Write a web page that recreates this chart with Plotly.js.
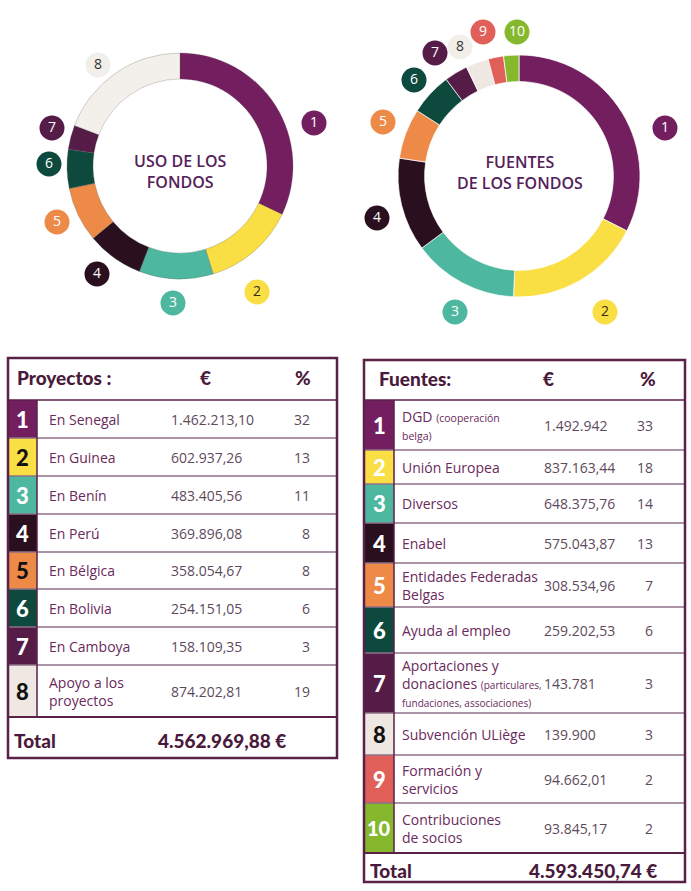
<!DOCTYPE html>
<html>
<head>
<meta charset="utf-8">
<script src="https://cdn.plot.ly/plotly-3.0.1.min.js"></script>
<style>html,body{margin:0;padding:0;background:#fff;}#chart{width:691px;height:891px;}</style>
</head>
<body>
<div id="chart"></div>
<script>
// ---------- DATA ----------
var usoIds = ['1','2','3','4','5','6','7','8'];
var usoLabels = ['En Senegal','En Guinea','En Benín','En Perú','En Bélgica','En Bolivia','En Camboya','Apoyo a los<br>proyectos'];
var usoValues = [1462213.10, 602937.26, 483405.56, 369896.08, 358054.67, 254151.05, 158109.35, 874202.81];
var usoPct = [32, 13, 11, 8, 8, 6, 3, 19];

var fuenteIds = ['1','2','3','4','5','6','7','8','9','10'];
var fuenteLabels = [
  'DGD <span style="font-size:10.5px">(cooperación</span><br><span style="font-size:10.5px">belga)</span>',
  'Unión Europea',
  'Diversos',
  'Enabel',
  'Entidades Federadas<br>Belgas',
  'Ayuda al empleo',
  'Aportaciones y<br>donaciones <span style="font-size:10px">(particulares,</span><br><span style="font-size:10px">fundaciones, associaciones)</span>',
  'Subvención ULiège',
  'Formación y<br>servicios',
  'Contribuciones<br>de socios'
];
var fuenteValues = [1492942, 837163.44, 648375.76, 575043.87, 308534.96, 259202.53, 143781, 139900, 94662.01, 93845.17];
var fuentePct = [33, 18, 14, 13, 7, 6, 3, 3, 2, 2];

var usoTitle = 'USO DE LOS<br>FONDOS';
var fuenteTitle = 'FUENTES<br>DE LOS FONDOS';
var usoHeader = ['Proyectos :', '€', '%'];
var fuenteHeader = ['Fuentes:', '€', '%'];
var totalLabel = 'Total';

// ---------- STYLE ----------
var C = {
  purple:'#731f5f', yellow:'#f9de44', teal:'#4db79f', dark:'#2a0f1f', orange:'#ee8a48',
  green:'#0d4a3d', plum:'#551c47', beige:'#efe8e2', salmon:'#e05f58', lime:'#85b82c'
};
var usoColors = [C.purple, C.yellow, C.teal, C.dark, C.orange, C.green, C.plum, C.beige];
var fuenteColors = [C.purple, C.yellow, C.teal, C.dark, C.orange, C.green, C.plum, C.beige, C.salmon, C.lime];
var usoNumColors = ['#fff','#111','#fff','#fff','#111','#fff','#fff','#111'];
var fuenteNumColors = ['#fff','#fff','#fff','#fff','#fff','#fff','#fff','#111','#fff','#fff'];
var usoCircleText = ['#fff','#3a2a10','#fff','#fff','#fff','#fff','#fff','#333'];
var fuenteCircleText = ['#fff','#3a2a10','#fff','#fff','#fff','#fff','#fff','#333','#fff','#fff'];
var BORDER = '#5a2048', LINE = '#8e7089', TXT = '#6a2a5c', NUMTXT = '#5e4a5c', TITLE = '#55215a';

// layout geometry (pixels)
var W = 691, H = 891;
var usoCircles = [[314,123],[257,292],[173,303],[97,274],[57,222],[49,164],[52,128],[98,65]];
var fuenteCircles = [[665,128],[605,312],[455,312],[377,218],[383,122],[414,80],[435,53],[460,47],[483,32],[517,32]];
var t1 = {x0:8, xn:37, x1:337, top:358, rows:[400,438,476,514,552,589,627,665,717], bottom:758,
          hx:15, eurX:205, pctHX:303, labelX:47, valX:169, pctX:312, totValX:222};
var t2 = {x0:364, xn:394, x1:685, top:360, rows:[400,450,484,523,563,607,653,713,755,803,853], bottom:882,
          hx:377, eurX:548, pctHX:648, labelX:400, valX:542, pctX:655, totValX:593};

function fmt(v){
  var isInt = Math.abs(v - Math.round(v)) < 1e-9;
  var s = isInt ? String(Math.round(v)) : v.toFixed(2);
  var parts = s.split('.');
  var ip = parts[0].replace(/\B(?=(\d{3})+(?!\d))/g, '.');
  return parts.length > 1 ? ip + ',' + parts[1] : ip;
}
function sum(a){ return a.reduce(function(s,v){return s+v;},0); }

function px2dom(x0,x1,y0,y1){ return {x:[x0/W, x1/W], y:[1 - y1/H, 1 - y0/H]}; }

var traces = [];
// donuts
traces.push({type:'pie', values:usoValues, labels:usoIds, sort:false, direction:'clockwise', rotation:0,
  hole:0.77, textinfo:'none', hoverinfo:'none', showlegend:false,
  marker:{colors:usoColors.map(function(c,i){return i===7 ? '#f3efeb' : c;}), line:{color:'rgba(90,90,90,0.45)', width:0.6}},
  domain:px2dom(180-113, 180+113, 166-113, 166+113)});
traces.push({type:'pie', values:fuenteValues, labels:fuenteIds, sort:false, direction:'clockwise', rotation:0,
  hole:0.78, textinfo:'none', hoverinfo:'none', showlegend:false,
  marker:{colors:fuenteColors, line:{color:'rgba(255,255,255,0.9)', width:0.8}},
  domain:px2dom(519-121, 519+121, 176-121, 176+121)});
// numbered circles
traces.push({type:'scatter', mode:'markers+text', hoverinfo:'none', showlegend:false,
  x:usoCircles.map(function(p){return p[0];}), y:usoCircles.map(function(p){return p[1];}),
  text:usoIds, textposition:'middle center',
  textfont:{family:'Open Sans, sans-serif', size:14, color:usoCircleText},
  marker:{size:25, color:usoColors.map(function(c,i){return i===7 ? '#f2eeea' : c;}), line:{width:0}}});
traces.push({type:'scatter', mode:'markers+text', hoverinfo:'none', showlegend:false,
  x:fuenteCircles.map(function(p){return p[0];}), y:fuenteCircles.map(function(p){return p[1];}),
  text:fuenteIds, textposition:'middle center',
  textfont:{family:'Open Sans, sans-serif', size:14, color:fuenteCircleText},
  marker:{size:25, color:fuenteColors.map(function(c,i){return i===7 ? '#f2eeea' : c;}), line:{width:0}}});

var shapes = [], annotations = [];
function ann(x,y,text,o){
  var a = {xref:'x', yref:'y', x:x, y:y, text:text, showarrow:false, xanchor:'left', yanchor:'middle', align:'left',
    font:{family:'Open Sans, sans-serif', size:14, color:TXT}};
  for (var k in o){ if (k==='font'){ for (var f in o.font) a.font[f]=o.font[f]; } else a[k]=o[k]; }
  annotations.push(a);
}
function line(x0,y0,x1,y1,color,w){
  shapes.push({type:'line', xref:'x', yref:'y', x0:x0, y0:y0, x1:x1, y1:y1, line:{color:color, width:w}, layer:'above'});
}

function buildTable(t, ids, labels, values, pct, colors, numColors, header){
  var n = ids.length;
  for (var i=0;i<n;i++){
    shapes.push({type:'rect', xref:'x', yref:'y', x0:t.x0, x1:t.xn, y0:t.rows[i], y1:t.rows[i+1],
      fillcolor:colors[i], line:{width:0}, layer:'below'});
  }
  for (var i=1;i<n;i++) line(t.x0, t.rows[i], t.x1, t.rows[i], LINE, 1.5);
  line(t.x0, t.rows[0], t.x1, t.rows[0], BORDER, 1.5);
  line(t.x0, t.rows[n], t.x1, t.rows[n], BORDER, 2);
  line(t.xn, t.rows[0], t.xn, t.rows[n], BORDER, 1.5);
  shapes.push({type:'rect', xref:'x', yref:'y', x0:t.x0, x1:t.x1, y0:t.top, y1:t.bottom,
    line:{color:BORDER, width:2.5}, fillcolor:'rgba(0,0,0,0)', layer:'above'});
  var hy = (t.top + t.rows[0]) / 2 - 2;
  var hf = {family:'Lato, sans-serif', size:19, color:'#4a1a3c', weight:900};
  ann(t.hx, hy, header[0], {font:hf});
  ann(t.eurX, hy, header[1], {xanchor:'center', font:hf});
  ann(t.pctHX, hy, header[2], {xanchor:'center', font:hf});
  for (var i=0;i<n;i++){
    var cy = (t.rows[i] + t.rows[i+1]) / 2;
    ann((t.x0+t.xn)/2, cy, ids[i], {xanchor:'center',
      font:{family:'Lato, sans-serif', size:(ids[i].length>1 ? 20 : 22), color:numColors[i], weight:900}});
    ann(t.labelX, cy, labels[i], {font:{size:14, color:TXT}});
    ann(t.valX, cy, fmt(values[i]), {font:{size:14, color:NUMTXT}});
    ann(t.pctX, cy, String(pct[i]), {xanchor:'right', font:{size:14, color:NUMTXT}});
  }
  var ty = (t.rows[n] + t.bottom) / 2 + 3;
  var tf = {family:'Lato, sans-serif', size:19, color:'#4a1a3c', weight:900};
  ann(t.x0 + 4, ty, totalLabel, {font:tf});
  ann(t.totValX, ty, fmt(sum(values))+' €', {xanchor:'center', font:tf});
}

buildTable(t1, usoIds, usoLabels, usoValues, usoPct, usoColors, usoNumColors, usoHeader);
buildTable(t2, fuenteIds, fuenteLabels, fuenteValues, fuentePct, fuenteColors, fuenteNumColors, fuenteHeader);

ann(180, 171, usoTitle, {xanchor:'center', align:'center',
  font:{family:'Open Sans, sans-serif', size:16, color:TITLE, weight:600}});
ann(520, 172, fuenteTitle, {xanchor:'center', align:'center',
  font:{family:'Open Sans, sans-serif', size:16, color:TITLE, weight:600}});

var layout = {
  width:W, height:H, margin:{l:0,r:0,t:0,b:0}, paper_bgcolor:'#fff', plot_bgcolor:'rgba(0,0,0,0)',
  xaxis:{range:[0,W], visible:false, fixedrange:true, domain:[0,1]},
  yaxis:{range:[H,0], visible:false, fixedrange:true, domain:[0,1]},
  shapes:shapes, annotations:annotations, showlegend:false
};
Plotly.newPlot('chart', traces, layout, {displayModeBar:false, staticPlot:true});
</script>
</body>
</html>
